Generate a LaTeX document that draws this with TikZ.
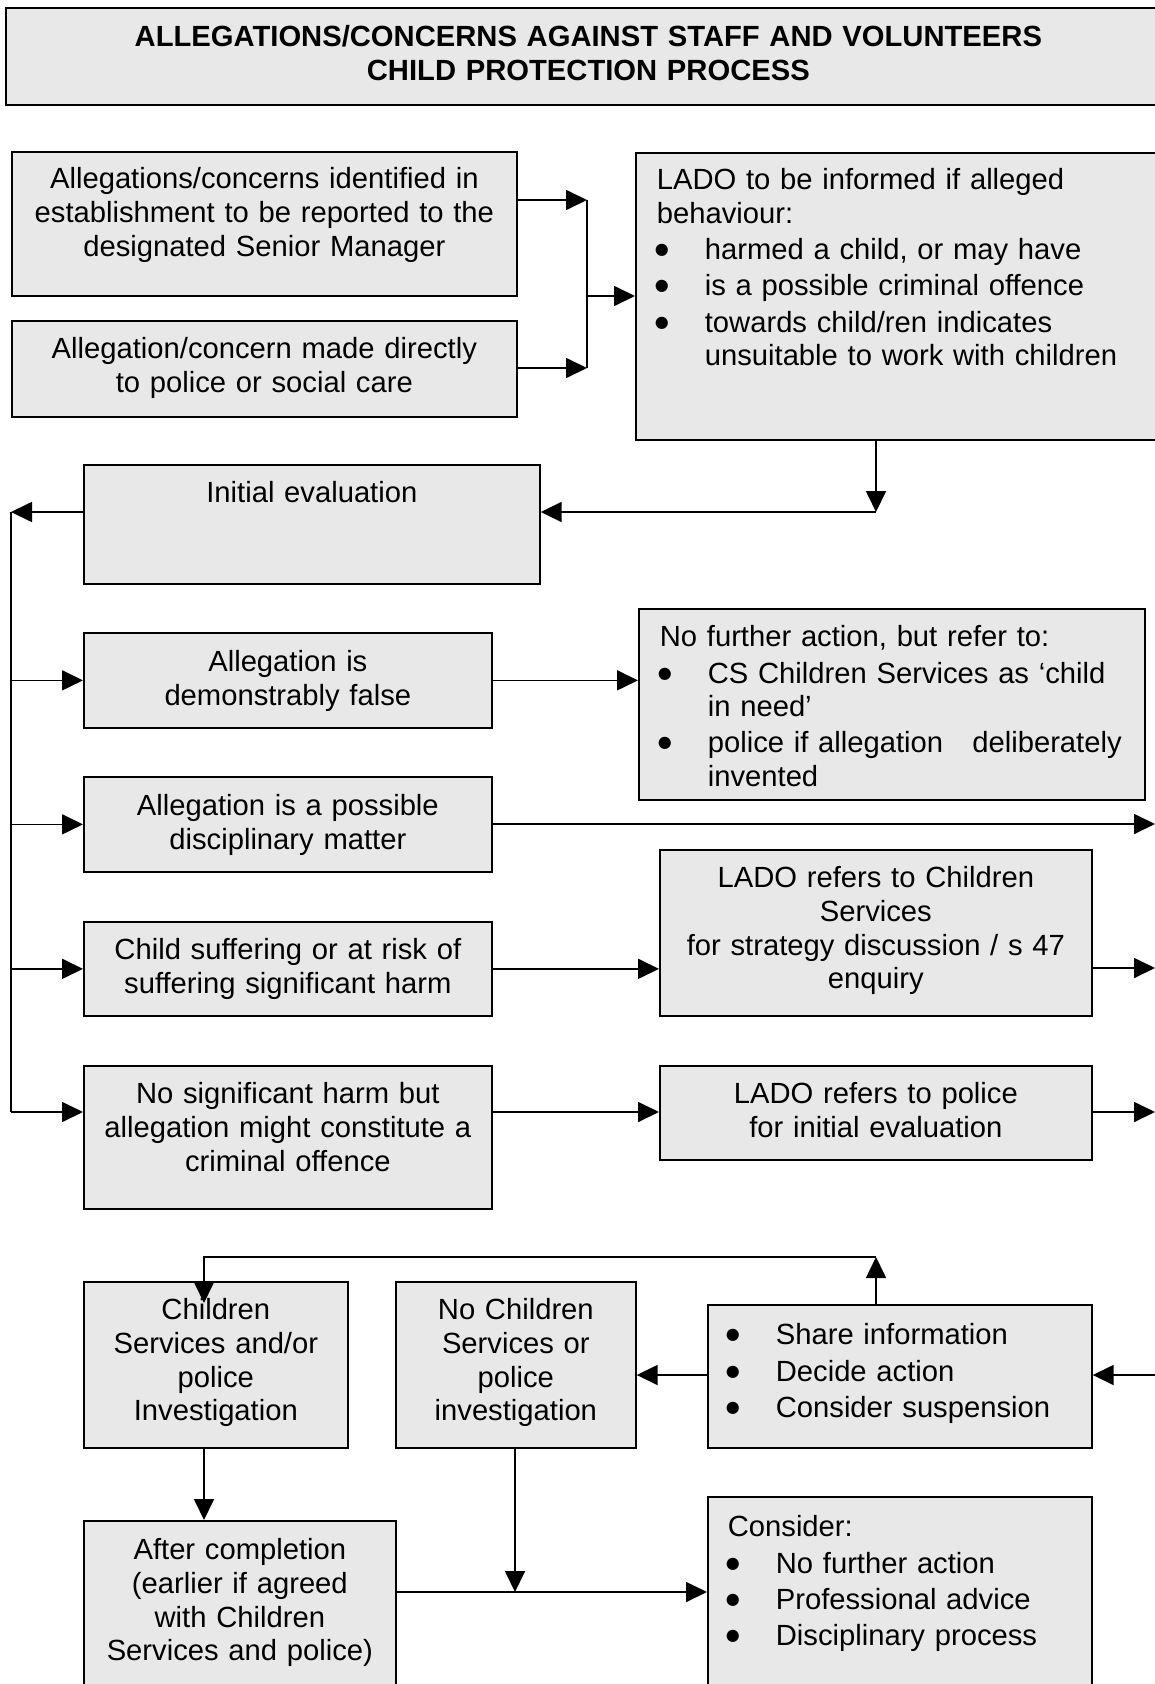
\documentclass[tikz,border=0pt]{standalone}
\usepackage{fontspec}
\setmainfont{Liberation Sans}
\newfontfamily\dotfont{DejaVu Sans}
\usetikzlibrary{arrows.meta}
\definecolor{boxfill}{HTML}{E8E8E8}
\newcommand{\bul}{\makebox[48pt][l]{\hspace*{-2pt}\raisebox{5pt}{\fontsize{16}{16}\dotfont ●}}}
\newcommand{\hang}{\hspace*{48pt}}

\tikzset{
  box/.style={draw, fill=boxfill, line width=1.7pt, anchor=north west,
    inner xsep=0pt, inner ysep=0pt, align=center,
    font=\fontsize{29.2}{33.7}\selectfont},
  lbox/.style={box, align=left, inner xsep=21pt},
  arr/.style={line width=1.7pt, -{Triangle[length=21pt,width=20pt]}},
  ln/.style={line width=1.7pt}
}

\begin{document}
\begin{tikzpicture}[x=1pt, y=-1pt]
	\useasboundingbox (0,0) rectangle (1155,1684);

	\node[box, text width=1165pt, text height=39pt, text depth=58pt, font=\fontsize{29.2}{34}\selectfont\bfseries] (ttl) at (5,7)
		{ALLEGATIONS/CONCERNS AGAINST STAFF AND VOLUNTEERS\\CHILD PROTECTION PROCESS};

	\node[box, text width=505pt, text height=37pt, text depth=107pt] (rep) at (11,151)
		{Allegations/concerns identified in\\establishment to be reported to the\\designated Senior Manager};
	\node[box, text width=505pt, text height=38pt, text depth=58pt] (rpt) at (11,320)
		{Allegation/concern made directly\\to police or social care};
	\node[lbox, text width=493pt, text height=37pt, text depth=250pt] (lado) at (635,152)
		{LADO to be informed if alleged\\behaviour:\\[2.5pt]
		\bul harmed a child, or may have\\[2.5pt]
		\bul is a possible criminal offence\\[2.5pt]
		\bul towards child/ren indicates\\
		\hang unsuitable to work with children};

	\node[box, text width=456pt, text height=38pt, text depth=81pt] (ini) at (83,464) {Initial evaluation};

	\node[box, text width=408pt, text height=39pt, text depth=56pt] (fls) at (83,632)
		{Allegation is\\demonstrably false};
	\node[lbox, text width=464pt, text height=38pt, text depth=153pt] (nfa) at (638,608)
		{No further action, but refer to:\\[2.5pt]
		\bul CS Children Services as ‘child\\
		\hang in need’\\[2.5pt]
		\bul police if allegation~~~deliberately\\
		\hang invented};
	\node[box, text width=408pt, text height=39pt, text depth=56pt] (dsc) at (83,776)
		{Allegation is a possible\\disciplinary matter};
	\node[box, text width=432pt, text height=38pt, text depth=128pt] (lcs) at (659,849)
		{LADO refers to Children\\Services\\for strategy discussion / s 47\\enquiry};
	\node[box, text width=408pt, text height=38pt, text depth=56pt] (chd) at (83,921)
		{Child suffering or at risk of\\suffering significant harm};
	\node[box, text width=408pt, text height=38pt, text depth=105pt] (nsh) at (83,1065)
		{No significant harm but\\allegation might constitute a\\criminal offence};
	\node[box, text width=432pt, text height=38pt, text depth=56pt] (lpo) at (659,1065)
		{LADO refers to police\\for initial evaluation};

	\node[box, text width=264pt, text height=38pt, text depth=128pt] (cs) at (83,1281)
		{Children\\Services and/or\\police\\Investigation};
	\node[box, text width=240pt, text height=38pt, text depth=128pt] (ncs) at (395,1281)
		{No Children\\Services or\\police\\investigation};
	\node[lbox, inner xsep=20pt, text width=344pt, text height=40pt, text depth=103pt] (shr) at (707,1304)
		{\bul Share information\\[2.5pt]
		\bul Decide action\\[2.5pt]
		\bul Consider suspension};
	\node[box, text width=312pt, text height=39pt, text depth=141pt] (aft) at (83,1520)
		{After completion\\(earlier if agreed\\with Children\\Services and police)};
	\node[lbox, inner xsep=20pt, text width=344pt, text height=40pt, text depth=164pt] (con) at (707,1496)
		{Consider:\\[2.5pt]
		\bul No further action\\[2.5pt]
		\bul Professional advice\\[2.5pt]
		\bul Disciplinary process};

	\coordinate (m1) at (587,200);
	\coordinate (m2) at (587,368);
	\coordinate (m) at (587,296);
	\coordinate (d) at (876,512);
	\coordinate (t0) at (11,512);
	\coordinate (t4) at (11,1112);
	\coordinate (e1) at (1155,824);
	\coordinate (e2) at (1155,968);
	\coordinate (e3) at (1155,1112);
	\coordinate (e4) at (1155,1375);
	\coordinate (u) at (876,1257);
	\coordinate (u2) at (204,1257);
	\coordinate (c1) at (204,1303);
	\coordinate (j) at (515,1592);

	\draw[arr] (rep.east |- m1) -- (m1);
	\draw[arr] (rpt.east |- m2) -- (m2);
	\draw[ln] (m1) -- (m2);
	\draw[arr] (m) -- (lado.west |- m);

	\draw[arr] (lado.south -| d) -- (d);
	\draw[arr] (d) -- (ini.east |- d);
	\draw[arr] (ini.west |- t0) -- (t0);
	\draw[ln] (t0) -- (t4);
	\foreach \n in {fls,dsc,chd}
		\draw[arr] (t0 |- \n.west) -- (\n.west);
	\draw[arr] (t4) -- (nsh.west |- t4);

	\draw[arr] (fls.east) -- (nfa.west |- fls.east);
	\draw[arr] (dsc.east |- e1) -- (e1);
	\draw[arr] (chd.east) -- (lcs.west |- chd.east);
	\draw[arr] (lcs.east |- e2) -- (e2);
	\draw[arr] (nsh.east |- e3) -- (lpo.west |- e3);
	\draw[arr] (lpo.east |- e3) -- (e3);

	\draw[arr] (e4) -- (shr.east |- e4);
	\draw[arr] (shr.west |- e4) -- (ncs.east |- e4);
	\draw[arr] (shr.north -| u) -- (u);
	\draw[arr] (u) -- (u2) -- (c1);
	\draw[arr] (cs.south -| c1) -- (aft.north -| c1);
	\draw[arr] (ncs.south -| j) -- (j);
	\draw[arr] (aft.east |- j) -- (con.west |- j);
\end{tikzpicture}
\end{document}
